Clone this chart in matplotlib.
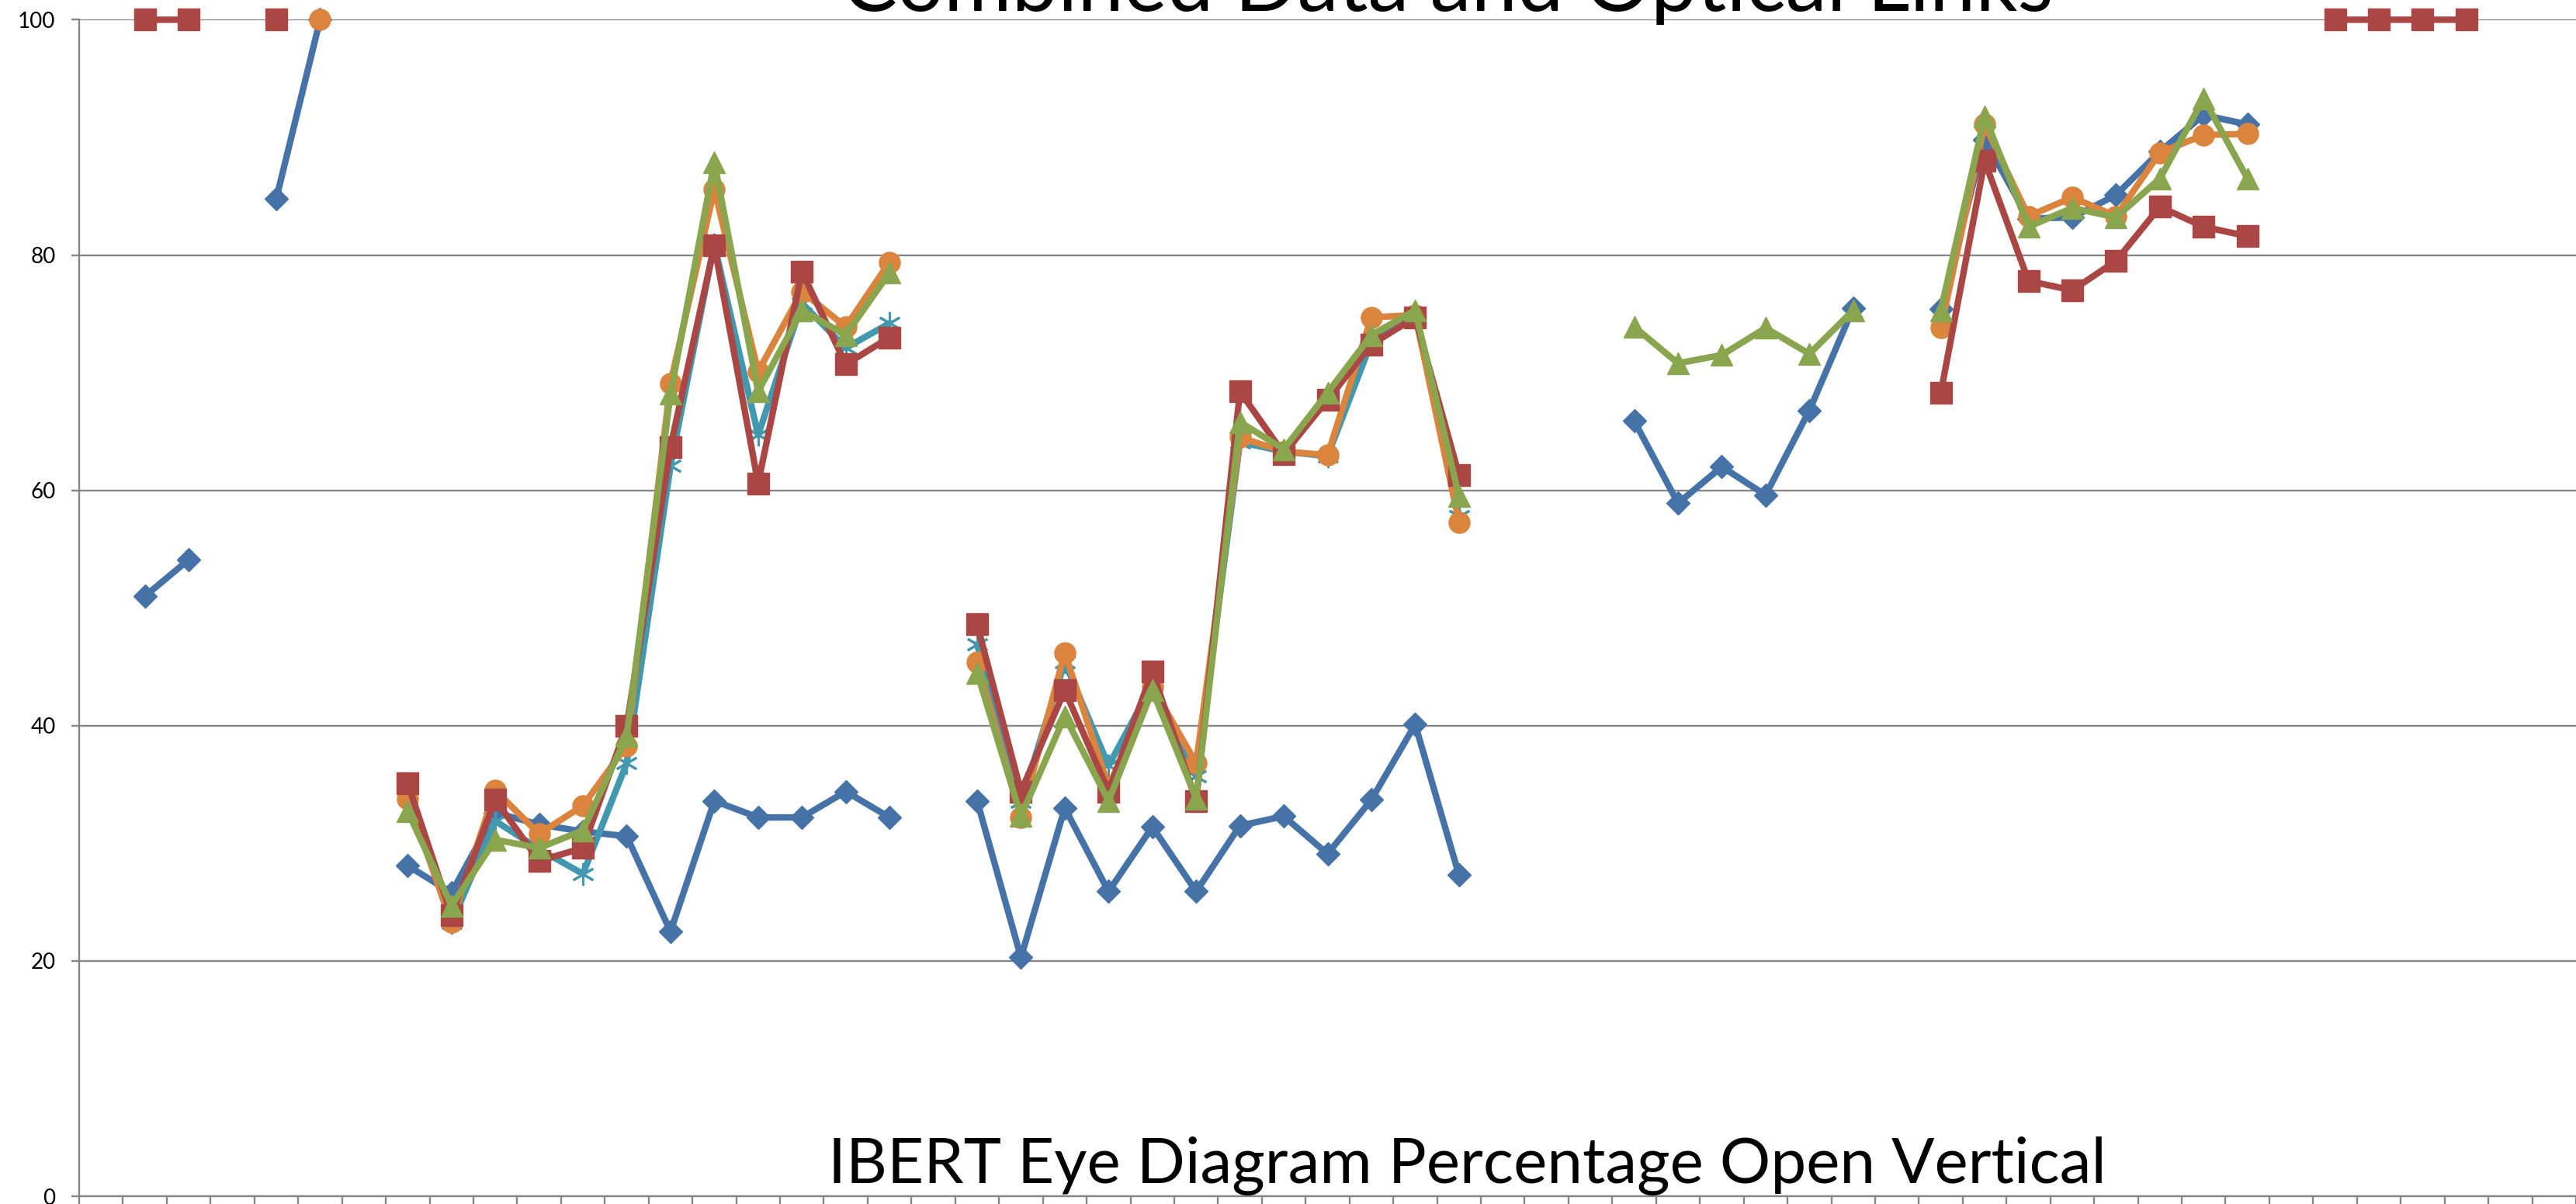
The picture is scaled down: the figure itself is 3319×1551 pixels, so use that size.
import numpy as np
import matplotlib
matplotlib.use("Agg")
import matplotlib.pyplot as plt

nan = np.nan

# ---------------- data (category index 0..56) ----------------
categories = list(range(57))

blue_diamond = [nan, 51.0, 54.1, nan, 84.8, 100.0, nan,
                28.1, 25.8, 32.6, 31.6, 31.0, 30.6, 22.5, 33.6, 32.2, 32.2, 34.4, 32.2, nan,
                33.6, 20.3, 33.0, 25.9, 31.4, 25.9, 31.5, 32.3, 29.1, 33.7, 40.1, 27.3, nan, nan, nan,
                65.9, 58.9, 62.0, 59.6, 66.8, 75.5, nan,
                75.4, 89.8, 83.1, 83.2, 85.1, 88.8, 91.9, 91.1,
                nan, nan, nan, nan, nan, nan, nan]

red_square = [nan, 100.0, 100.0, nan, 100.0, nan, nan,
              35.1, 23.9, 33.7, 28.5, 29.6, 40.0, 63.7, 80.8, 60.6, 78.6, 70.7, 73.0, nan,
              48.6, 34.4, 43.0, 34.4, 44.6, 33.6, 68.4, 63.1, 67.7, 72.4, 74.7, 61.3, nan, nan, nan,
              nan, nan, nan, nan, nan, nan, nan,
              68.3, 88.0, 77.8, 77.0, 79.5, 84.1, 82.4, 81.6,
              nan, 100.0, 100.0, 100.0, 100.0, nan, nan]

green_triangle = [nan, nan, nan, nan, nan, nan, nan,
                  32.7, 24.7, 30.3, 29.6, 31.1, 39.1, 68.2, 87.9, 68.4, 75.3, 73.2, 78.5, nan,
                  44.5, 32.3, 40.8, 33.6, 43.0, 33.8, 65.8, 63.5, 68.3, 73.2, 75.3, 59.5, nan, nan, nan,
                  73.9, 70.8, 71.5, 73.8, 71.6, 75.3, nan,
                  75.3, 91.8, 82.4, 84.0, 83.2, 86.5, 93.3, 86.5,
                  nan, nan, nan, nan, nan, nan, nan]

orange_circle = [nan, nan, nan, nan, nan, 100.0, nan,
                 33.8, 23.3, 34.5, 30.8, 33.2, 38.3, 69.1, 85.6, 70.1, 76.9, 73.9, 79.4, nan,
                 45.4, 32.2, 46.2, 34.8, 43.3, 36.8, 64.5, 63.3, 63.0, 74.7, 74.9, 57.3, nan, nan, nan,
                 nan, nan, nan, nan, nan, nan, nan,
                 73.8, 91.1, 83.3, 84.9, 83.3, 88.7, 90.2, 90.3,
                 nan, nan, nan, nan, nan, nan, nan]

cyan_star = [nan, nan, nan, nan, nan, nan, nan,
             33.9, 23.2, 31.9, 29.5, 27.4, 36.8, 62.1, 80.9, 64.7, 75.9, 72.1, 74.2, nan,
             46.9, 33.5, 45.4, 36.6, 43.5, 35.7, 64.1, 63.3, 62.9, 72.6, 75.0, 57.8, nan, nan, nan,
             nan, nan, nan, nan, nan, nan, nan,
             nan, nan, nan, nan, nan, nan, nan, nan,
             nan, nan, nan, nan, nan, nan, nan]

y_ticks = [0, 20, 40, 60, 80, 100]
title_text = "Combined Data and Optical Links"
inner_text = "IBERT Eye Diagram Percentage Open Vertical"

# ---------------- styling ----------------
W, H, DPI = 3319, 1551, 100
FONT = ["Lato", "DejaVu Sans"]
plt.rcParams['font.family'] = FONT

C_BLUE = "#4572A7"
C_RED = "#AA4643"
C_GREEN = "#89A54E"
C_CYAN = "#4198AF"
C_ORANGE = "#DB843D"
C_GRID = "#868686"

fig = plt.figure(figsize=(W / DPI, H / DPI), dpi=DPI)

px_left, px_right = 102, W
px_zero, px_hundred = 1541, 25.4
cat_w = 56.6

ax = fig.add_axes([px_left / W, (H - px_zero) / H,
                   (px_right - px_left) / W, (px_zero - px_hundred) / H])
ax.set_xlim(-0.5, -0.5 + (px_right - px_left) / cat_w)
ax.set_ylim(0, 100)

ax.set_yticks(y_ticks)
ax.set_yticklabels([str(v) for v in y_ticks])
ax.set_xticks([c - 0.5 for c in categories] + [categories[-1] + 0.5])
ax.set_xticklabels([])
ax.yaxis.grid(True, color=C_GRID, linewidth=1.7, zorder=0)
ax.set_axisbelow(True)
for s in ['top', 'right']:
    ax.spines[s].set_visible(False)
for s in ['left', 'bottom']:
    ax.spines[s].set_color(C_GRID)
    ax.spines[s].set_linewidth(1.7)
ax.tick_params(axis='y', length=7, width=1.7, color=C_GRID, pad=15,
               labelsize=20, labelcolor='black')
ax.tick_params(axis='x', length=12, width=1.7, color=C_GRID)

x = np.array(categories)
lw = 6.0
ax.plot(x, blue_diamond, color=C_BLUE, lw=lw, marker='D', ms=15.5,
        mec=C_BLUE, mfc=C_BLUE, zorder=3, clip_on=False)
ax.plot(x, cyan_star, color=C_CYAN, lw=lw, marker=(6, 2, 0), ms=21,
        mec=C_CYAN, mew=2.2, zorder=4, clip_on=False)
ax.plot(x, orange_circle, color=C_ORANGE, lw=lw, marker='o', ms=19.5,
        mec=C_ORANGE, mfc=C_ORANGE, zorder=5, clip_on=False)
ax.plot(x, red_square, color=C_RED, lw=lw, marker='s', ms=19.5,
        mec=C_RED, mfc=C_RED, zorder=6, clip_on=False)
ax.plot(x, green_triangle, color=C_GREEN, lw=lw, marker='^', ms=20.5,
        mec=C_GREEN, mfc=C_GREEN, zorder=7, clip_on=False)


def fit_text(xc, y_base, s, target_w):
    t = fig.text(xc / W, (H - y_base) / H, s, ha='center', va='baseline',
                 fontsize=60, color='black')
    r = fig.canvas.get_renderer()
    w = t.get_window_extent(renderer=r).width
    t.set_fontsize(60 * target_w / w)
    return t


# The reference is a crop: the title is cut off by the top edge there too.
fit_text(1865, 14, title_text, 1560)
fit_text(1890, 1524, inner_text, 1649)

fig.savefig("out.png", dpi=DPI)
